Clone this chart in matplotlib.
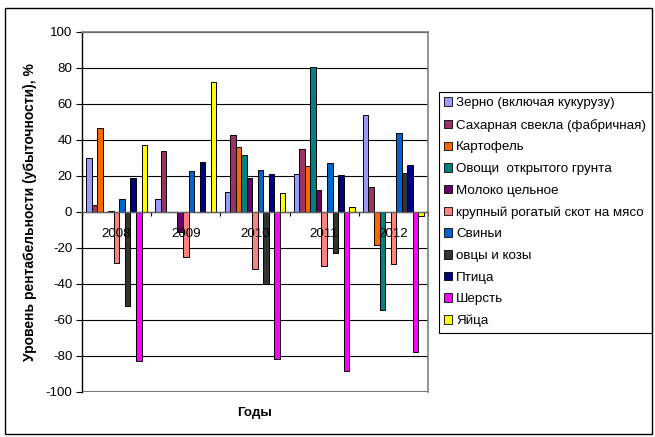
import matplotlib
matplotlib.use("Agg")
from matplotlib import pyplot as plt
from matplotlib.patches import Rectangle
import numpy as np

plt.rcParams['font.family'] = ['Liberation Sans', 'DejaVu Sans']
plt.rcParams['axes.unicode_minus'] = False

years = ['2008', '2009', '2010', '2011', '2012']

# рентабельность по видам продукции, %
grain = [30, 7.5, 11, 21, 54]
sugar_beet = [4, 34, 43, 35, 14]
potato = [46.5, 0, 36, 25.5, -18.5]
vegetables = [0, 0, 31.5, 80.5, -54.5]
milk = [0.5, -11, 19, 12.5, -5.5]
cattle = [-28.5, -25, -31.5, -30, -29]
pigs = [7, 23, 23.5, 27, 44]
sheep = [-52, 0, -40, -23, 21.5]
poultry = [19, 28, 21, 20.5, 26]
wool = [-83, 0, -81.5, -88.5, -78]
eggs = [37.5, 72, 10.5, 3, -2]

labels = [
    'Зерно (включая кукурузу)',
    'Сахарная свекла (фабричная)',
    'Картофель',
    'Овощи  открытого грунта',
    'Молоко цельное',
    'крупный рогатый скот на мясо',
    'Свиньи',
    'овцы и козы',
    'Птица',
    'Шерсть',
    'Яйца',
]
colors = ['#9999FF', '#993366', '#FF6600', '#008080', '#660066', '#FF8080',
          '#0066CC', '#333333', '#000080', '#FF00FF', '#FFFF00']
series = [grain, sugar_beet, potato, vegetables, milk, cattle,
          pigs, sheep, poultry, wool, eggs]

FS = 9.6

fig = plt.figure(figsize=(6.55, 4.37), dpi=100)
ax = fig.add_axes([82 / 655, 1 - 392 / 437, 346 / 655, 360 / 437])

n = len(series)
width = 1 / (n + 1.5)
x0 = np.arange(len(years)) + 0.75 * width
for k, (vals, lab, col) in enumerate(zip(series, labels, colors)):
    bars = ax.bar(x0 + k * width, vals, width, align='edge', color=col,
                  edgecolor='black', linewidth=0.7, label=lab, zorder=3)
    if lab == 'Молоко цельное':
        # 2012 bar is shown unfilled
        bars[4].set_facecolor('white')

ax.set_xlim(0, len(years))
ax.set_ylim(-100, 100)
ax.set_yticks(np.arange(-100, 101, 20))
ax.yaxis.grid(True, color='black', linewidth=0.8, zorder=0)
ax.axhline(100, color='#808080', linewidth=1.5, zorder=1)
ax.axhline(-100, color='#808080', linewidth=1.5, zorder=1)

for side in ['top', 'right']:
    ax.spines[side].set_color('#808080')
    ax.spines[side].set_linewidth(1.2)
ax.spines['left'].set_linewidth(1.0)
ax.spines['bottom'].set_position(('data', 0))
ax.spines['bottom'].set_color('#606060')
ax.spines['bottom'].set_linewidth(1.0)
ax.spines['bottom'].set_zorder(4)

ax.set_xticks(np.arange(len(years) + 1))
ax.set_xticklabels([])
ax.tick_params(axis='x', direction='out', length=3, width=0.8)
ax.tick_params(axis='y', direction='out', length=4, width=0.8, labelsize=FS, pad=3)

for i, y in enumerate(years):
    ax.text(i + 0.5, -9, y, ha='center', va='top', fontsize=FS, zorder=5)

ax.set_ylabel('Уровень рентабельности (убыточности), %', fontsize=10,
              fontweight='bold', labelpad=6)
fig.text(255 / 655, 1 - 413 / 437, 'Годы', ha='center', va='center',
         fontsize=FS, fontweight='bold')

leg = ax.legend(loc='upper left', bbox_to_anchor=(439 / 655, 1 - 92 / 437),
                bbox_transform=fig.transFigure, fontsize=FS, frameon=True,
                fancybox=False, edgecolor='black', framealpha=1,
                handlelength=0.6, handleheight=0.6, handletextpad=0.3,
                labelspacing=0.72, borderpad=0.4, borderaxespad=0)
leg.get_frame().set_linewidth(0.8)
for h in leg.legend_handles:
    h.set_linewidth(0.6)

fig.patches.append(Rectangle((5 / 655, 3 / 437), 647 / 655, 426 / 437,
                             transform=fig.transFigure, fill=False,
                             edgecolor='black', linewidth=1.0))

fig.savefig('out.png', dpi=100)
